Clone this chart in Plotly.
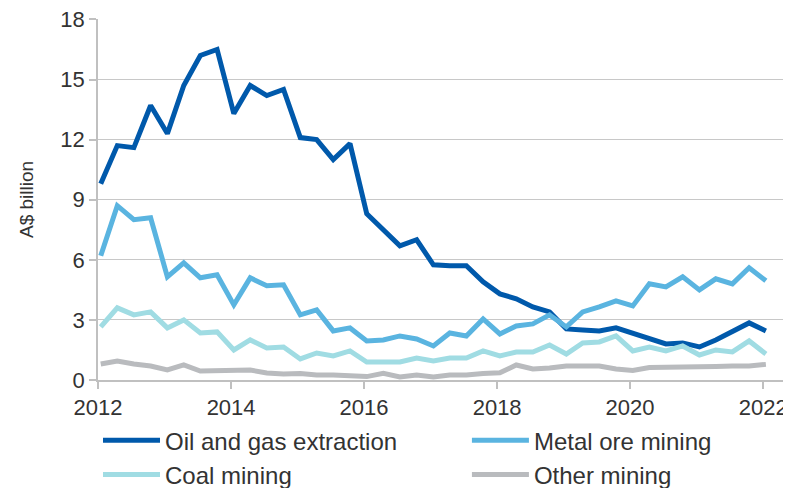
import pandas as pd
import plotly.graph_objects as go

# quarterly observations, 2012 Q1 to 2022 Q1
quarters = pd.period_range("2012Q1", "2022Q1", freq="Q")

oil_gas = [9.8, 11.7, 11.6, 13.7, 12.3, 14.7, 16.2, 16.5, 13.3, 14.7,
           14.2, 14.5, 12.1, 12.0, 11.0, 11.8, 8.3, 7.5, 6.7, 7.0,
           5.75, 5.7, 5.7, 4.9, 4.3, 4.05, 3.65, 3.4, 2.55, 2.5,
           2.45, 2.6, 2.35, 2.1, 1.8, 1.85, 1.65, 2.0, 2.4, 2.85, 2.45]
metal_ore = [6.2, 8.7, 8.0, 8.1, 5.15, 5.85, 5.1, 5.25, 3.75, 5.1,
             4.7, 4.75, 3.25, 3.5, 2.45, 2.6, 1.95, 2.0, 2.2, 2.05,
             1.7, 2.35, 2.2, 3.05, 2.3, 2.7, 2.8, 3.25, 2.65, 3.4,
             3.65, 3.95, 3.7, 4.8, 4.65, 5.15, 4.5, 5.05, 4.8, 5.6, 4.95]
coal = [2.65, 3.6, 3.25, 3.4, 2.6, 3.0, 2.35, 2.4, 1.5, 2.0,
        1.6, 1.65, 1.05, 1.35, 1.2, 1.45, 0.9, 0.9, 0.9, 1.1,
        0.95, 1.1, 1.1, 1.45, 1.2, 1.4, 1.4, 1.75, 1.3, 1.85,
        1.9, 2.2, 1.45, 1.65, 1.45, 1.7, 1.25, 1.5, 1.4, 1.95, 1.3]
other = [0.8, 0.95, 0.8, 0.7, 0.5, 0.75, 0.45, 0.45, 0.5, 0.5,
         0.35, 0.3, 0.33, 0.25, 0.25, 0.22, 0.17, 0.33, 0.15, 0.25,
         0.15, 0.25, 0.25, 0.33, 0.36, 0.75, 0.55, 0.6, 0.7, 0.7,
         0.7, 0.55, 0.47, 0.62, 0.62, 0.65, 0.62, 0.68, 0.7, 0.7, 0.78]

y_ticks = [0, 3, 6, 9, 12, 15, 18]
x_ticks = [2012, 2014, 2016, 2018, 2020, 2022]

# name, values, colour, which legend column
series = [
    ("Oil and gas extraction", oil_gas, "#0059ab", "legend"),
    ("Metal ore mining", metal_ore, "#5ab4e0", "legend2"),
    ("Coal mining", coal, "#a0dce3", "legend"),
    ("Other mining", other, "#b9bbbe", "legend2"),
]

x = quarters.to_timestamp() + pd.Timedelta(days=15)

fig = go.Figure()
for name, values, color, legend_id in series:
    fig.add_trace(
        go.Scatter(
            x=x,
            y=values,
            mode="lines",
            name=name,
            legend=legend_id,
            legendgroup=name,
            line={"color": color, "width": 5},
        )
    )

font = "Liberation Sans, Arial, sans-serif"
text_color = "#333333"
legend_common = {
    "orientation": "v",
    "xanchor": "left",
    "y": -0.106,
    "yanchor": "top",
    "itemwidth": 57,
    "tracegroupgap": 0,
    "bgcolor": "rgba(0,0,0,0)",
    "font": {"family": font, "size": 24, "color": text_color},
}

axis_common = {
    "zeroline": False,
    "showline": True,
    "linecolor": "#c0c0c0",
    "linewidth": 1.5,
    "ticks": "outside",
    "ticklen": 7,
    "tickcolor": "#c0c0c0",
    "tickwidth": 1.5,
    "ticklabeloverflow": "allow",
    "tickfont": {"family": font, "size": 22, "color": text_color},
}

# the page body adds an 8px offset, so margins are trimmed to land the plot area in place
fig.update_layout(
    width=791,
    height=488,
    margin={"l": 90, "r": 14, "t": 11, "b": 116, "autoexpand": False},
    paper_bgcolor="#ffffff",
    plot_bgcolor="#ffffff",
    font={"family": font, "size": 22, "color": text_color},
    showlegend=True,
    legend={**legend_common, "x": 0.0},
    legend2={**legend_common, "x": 0.537},
    xaxis={
        **axis_common,
        "type": "date",
        "range": ["2012-01-01", "2022-05-01"],
        "tickvals": [f"{y}-01-01" for y in x_ticks],
        "ticktext": [str(y) for y in x_ticks],
        "showgrid": False,
    },
    yaxis={
        **axis_common,
        "title": {"text": "A$ billion", "font": {"family": font, "size": 19, "color": text_color}, "standoff": 22},
        "range": [0, 18.02],
        "tickvals": y_ticks,
        "showgrid": True,
        "gridcolor": "#c8c8c8",
        "gridwidth": 1.3,
    },
)

fig.write_html("out.html")
